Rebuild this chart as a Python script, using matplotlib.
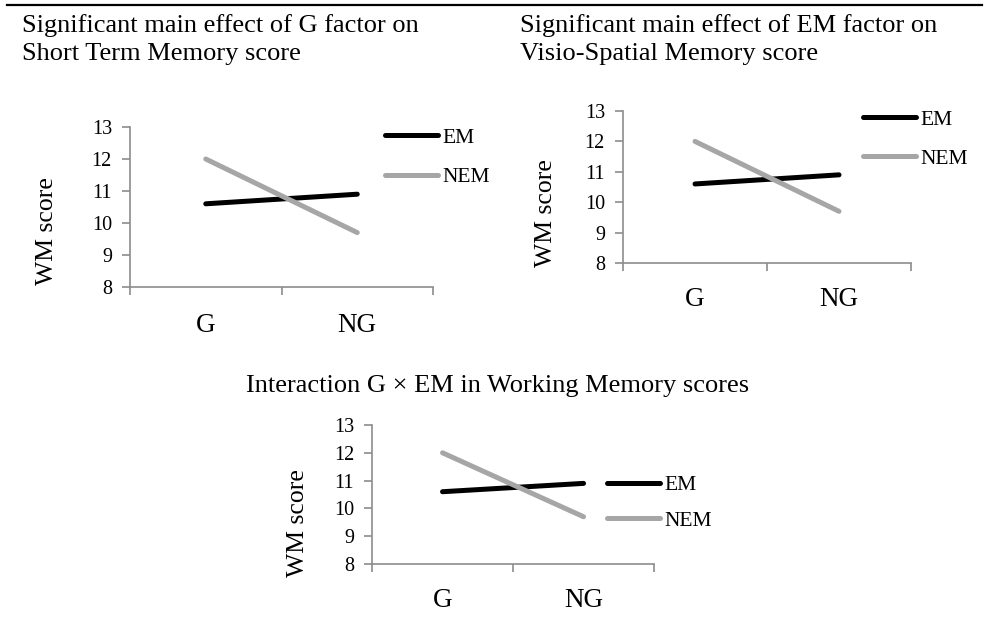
import matplotlib.pyplot as plt
from matplotlib.lines import Line2D

plt.rcParams['font.family'] = ['Liberation Serif', 'DejaVu Serif']

# data
groups = ["G", "NG"]
em_scores = [10.6, 10.9]
nem_scores = [12.0, 9.7]
series_names = ["EM", "NEM"]
series_colors = ["#000000", "#a6a6a6"]
y_ticks = [8, 9, 10, 11, 12, 13]

titles = ["Significant main effect of G factor on\nShort Term Memory score",
          "Significant main effect of EM factor on\nVisio-Spatial Memory score",
          "Interaction G \u00d7 EM in Working Memory scores"]

fig = plt.figure(figsize=(9.85, 6.25), dpi=100)

# rule at the top
fig.add_artist(Line2D([0.007, 0.997], [0.992, 0.992], transform=fig.transFigure,
                      color="black", lw=1.6))

# axes rectangles and legend / ylabel placement for each panel
panels = [
    dict(rect=[0.1320, 0.5408, 0.3076, 0.2560], leg=(0.842, 0.994), lab=(-0.238, 0.35),
         xpad=19, spacing=0.9),
    dict(rect=[0.6325, 0.5792, 0.2924, 0.2432], leg=(0.833, 1.007), lab=(-0.229, 0.33),
         xpad=17.5, spacing=0.88),
    dict(rect=[0.3777, 0.0976, 0.2863, 0.2224], leg=(0.833, 0.64), lab=(-0.223, 0.295),
         xpad=17.5, spacing=0.72),
]

for p in panels:
    ax = fig.add_axes(p["rect"])
    x = list(range(len(groups)))
    for vals, name, col in zip([em_scores, nem_scores], series_names, series_colors):
        ax.plot(x, vals, color=col, lw=3.6, solid_capstyle="round", label=name)
    ax.set_xlim(-0.5, len(groups) - 0.5)
    ax.set_ylim(8, 13)
    ax.set_yticks(y_ticks)
    # category boundaries as major ticks, labels on minor ticks
    ax.set_xticks([i - 0.5 for i in range(len(groups) + 1)])
    ax.set_xticklabels([])
    ax.set_xticks(x, minor=True)
    ax.set_xticklabels(groups, minor=True)
    ax.tick_params(axis="x", which="major", direction="out", length=6, width=1.2, color="#8c8c8c")
    ax.tick_params(axis="x", which="minor", length=0, pad=p["xpad"], labelsize=19.5)
    ax.tick_params(axis="y", direction="out", length=6, width=1.2, color="#8c8c8c",
                   pad=7, labelsize=14.5)
    for s in ["top", "right"]:
        ax.spines[s].set_visible(False)
    for s in ["left", "bottom"]:
        ax.spines[s].set_color("#8c8c8c")
        ax.spines[s].set_linewidth(1.2)
    ax.set_ylabel("WM score", fontsize=18.5)
    ax.yaxis.set_label_coords(*p["lab"])
    ax.legend(loc="upper left", bbox_to_anchor=p["leg"], frameon=False, fontsize=15.5,
              handlelength=2.45, handletextpad=0.2, labelspacing=p["spacing"],
              borderaxespad=0, borderpad=0)

fig.text(0.022, 0.9776, titles[0], fontsize=19, va="top", ha="left", linespacing=1.34)
fig.text(0.528, 0.9776, titles[1], fontsize=19, va="top", ha="left", linespacing=1.34)
fig.text(0.505, 0.3728, titles[2], fontsize=19, va="baseline", ha="center")

fig.savefig("out.png", dpi=100)
